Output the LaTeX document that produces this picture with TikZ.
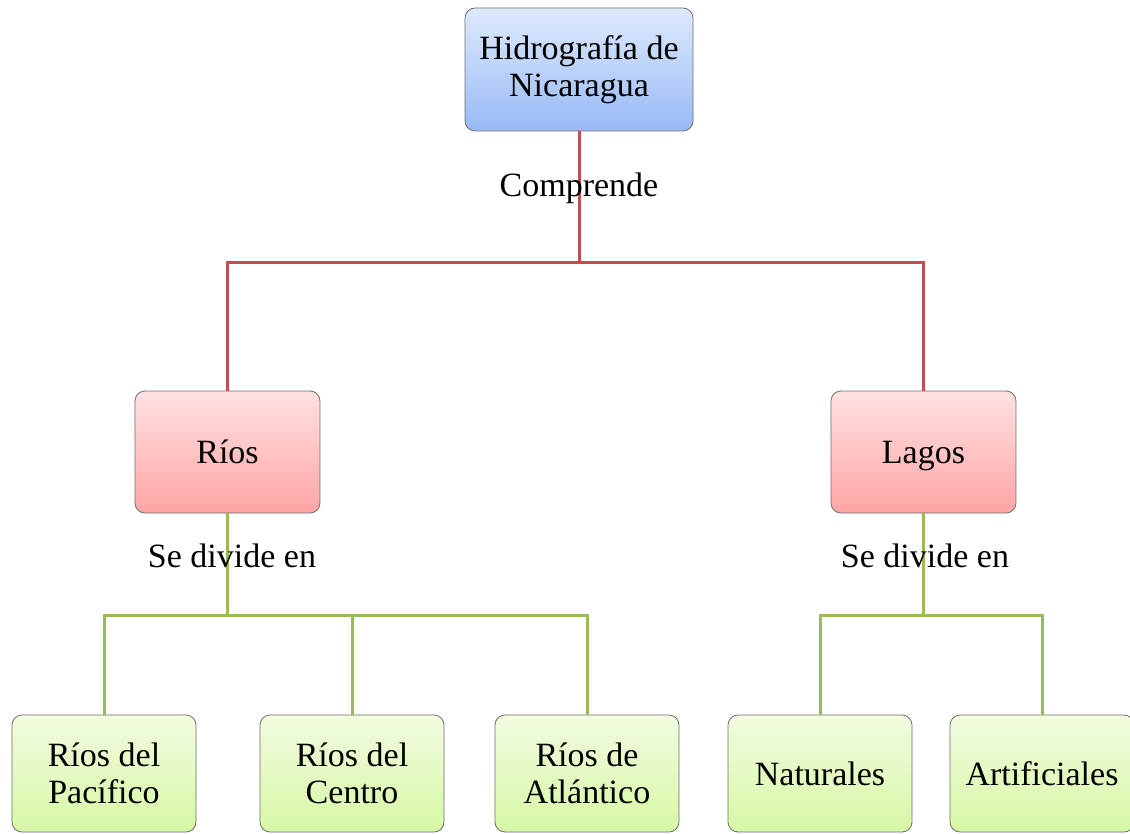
\documentclass[tikz,border=0pt]{standalone}
\usepackage{fontspec}
\setmainfont{Liberation Serif}
\definecolor{redline}{RGB}{192,80,77}
\definecolor{greenline}{RGB}{155,187,89}
\tikzset{every picture/.style={line width=0.75pt}}
\tikzset{
  box/.style={draw={rgb, 255:red, 110; green, 110; blue, 110}, line width=0.6pt, rounded corners=7.5pt, align=center, inner sep=0.75pt, font=\fontsize{25.5}{27.5}\selectfont},
  bluebox/.style={box, top color={rgb, 255:red, 222; green, 234; blue, 252}, bottom color={rgb, 255:red, 152; green, 186; blue, 246}, minimum width=171pt, minimum height=92.25pt},
  pinkbox/.style={box, top color={rgb, 255:red, 255; green, 226; blue, 226}, bottom color={rgb, 255:red, 255; green, 164; blue, 164}, minimum width=138.75pt, minimum height=91.5pt, text height=20pt, text depth=3pt},
  greenbox/.style={box, top color={rgb, 255:red, 242; green, 251; blue, 224}, bottom color={rgb, 255:red, 214; green, 248; blue, 164}, minimum width=138pt, minimum height=87.75pt},
  lbl/.style={inner sep=0.75pt, font=\fontsize{25.5}{27.5}\selectfont}
}

\begin{document}
\begin{tikzpicture}[x=0.75pt,y=0.75pt,yscale=-1,xscale=1]
	\useasboundingbox (0,0) rectangle (1130,834); %set diagram to 1130 x 834
	
	% Boxes
	\node [bluebox] (hidro) at (579,69.5) {Hidrografía de\\Nicaragua};
	\node [pinkbox] (rios) at (227.5,452) {Ríos};
	\node [pinkbox] (lagos) at (923.5,452) {Lagos};
	\node [greenbox] (pacifico) at (104,773.5) {Ríos del\\Pacífico};
	\node [greenbox] (centro) at (352,773.5) {Ríos del\\Centro};
	\node [greenbox] (atlantico) at (587,773.5) {Ríos de\\Atlántico};
	\node [greenbox] (naturales) at (820,773.5) {Naturales};
	\node [greenbox] (artificiales) at (1042,773.5) {Artificiales};
	
	% Branch points
	\coordinate (hbus) at (579,262);
	\coordinate (rbus) at (227.5,615);
	\coordinate (lbus) at (923.5,615);
	
	%Straight Lines
	\draw [redline, line width=2.25pt] (hidro.south) -- (hbus) -| (rios.north);
	\draw [redline, line width=2.25pt] (hbus) -| (lagos.north);
	%Straight Lines
	\draw [greenline, line width=2.25pt] (rios.south) -- (rbus) -| (pacifico.north);
	\draw [greenline, line width=2.25pt] (rbus) -| (centro.north);
	\draw [greenline, line width=2.25pt] (rbus) -| (atlantico.north);
	\draw [greenline, line width=2.25pt] (lagos.south) -- (lbus) -| (naturales.north);
	\draw [greenline, line width=2.25pt] (lbus) -| (artificiales.north);
	
	% Text Node
	\node [lbl] (comprende) at (579,188) {Comprende};
	% Text Node
	\node [lbl] (divrios) at (232,556) {Se divide en};
	% Text Node
	\node [lbl] (divlagos) at (925,556) {Se divide en};
	
\end{tikzpicture}
\end{document}
